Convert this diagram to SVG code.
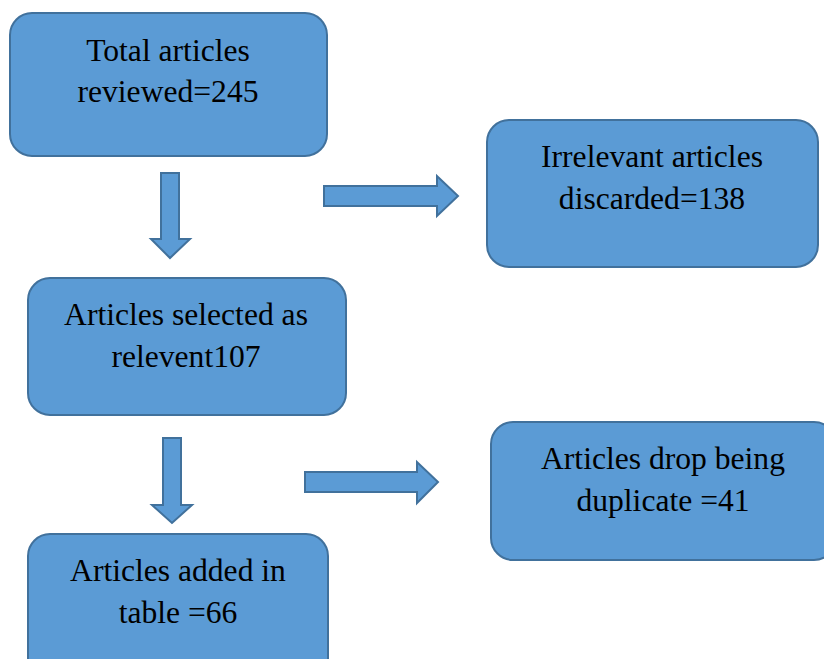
<svg xmlns="http://www.w3.org/2000/svg" width="824" height="659" viewBox="0 0 824 659">
<style>
.box{fill:#5B9BD5;stroke:#41719C;stroke-width:2}
.arr{fill:#5B9BD5;stroke:#41719C;stroke-width:2;stroke-linejoin:miter}
text{font-family:"Liberation Serif","Times New Roman",serif;font-size:31.6px;fill:#000;text-anchor:middle}
</style>
<rect width="824" height="659" fill="#fff"/>
<g id="connectors">
<polygon class="arr" points="161,173 179,173 179,239 190,239 170,258 151,239 161,239"/>
<polygon class="arr" points="324,186 437,186 437,176 458,196 437,216 437,206 324,206"/>
<polygon class="arr" points="163,438 181,438 181,505 192,505 172,523 152,505 163,505"/>
<polygon class="arr" points="305,472 417,472 417,462 438,482 417,503 417,492 305,492"/>
</g>
<g id="n1">
<rect class="box" x="10" y="13" width="317" height="143" rx="22"/>
<text x="168" y="61">Total articles</text>
<text x="168" y="102">reviewed=245</text>
</g>
<g id="n2">
<rect class="box" x="487" y="120" width="331" height="147" rx="22"/>
<text x="652" y="167">Irrelevant articles</text>
<text x="652" y="209">discarded=138</text>
</g>
<g id="n3">
<rect class="box" x="28" y="278" width="318" height="137" rx="22"/>
<text x="186" y="325">Articles selected as</text>
<text x="186" y="367">relevent107</text>
</g>
<g id="n4">
<rect class="box" x="491" y="422" width="345" height="138" rx="22"/>
<text x="663" y="469">Articles drop being</text>
<text x="663" y="511">duplicate =41</text>
</g>
<g id="n5">
<rect class="box" x="28" y="534" width="300" height="150" rx="22"/>
<text x="178" y="581">Articles added in</text>
<text x="178" y="623">table =66</text>
</g>
</svg>
